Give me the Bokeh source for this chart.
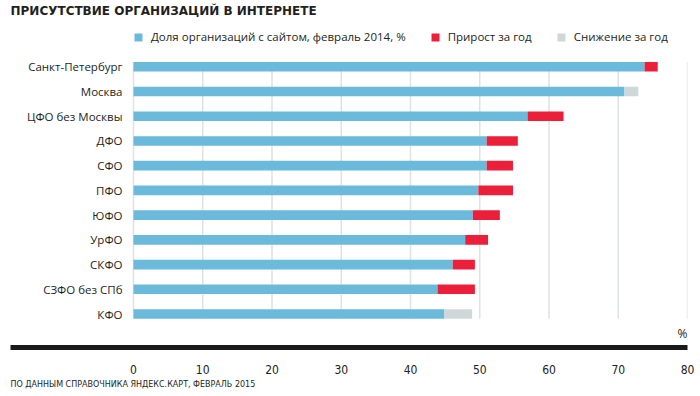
from bokeh.plotting import figure
from bokeh.models import Range1d, FixedTicker, Label, ColumnDataSource, Title
from bokeh.core.properties import value
from bokeh.embed import file_html
from bokeh.resources import INLINE

title_text = "ПРИСУТСТВИЕ ОРГАНИЗАЦИЙ В ИНТЕРНЕТЕ"
source_text = "ПО ДАННЫМ СПРАВОЧНИКА ЯНДЕКС.КАРТ, ФЕВРАЛЬ 2015"
series_names = ["Доля организаций с сайтом, февраль 2014, %", "Прирост за год", "Снижение за год"]

regions = ["Санкт-Петербург", "Москва", "ЦФО без Москвы", "ДФО", "СФО", "ПФО",
           "ЮФО", "УрФО", "СКФО", "СЗФО без СПб", "КФО"]
base = [73.8, 70.9, 56.9, 51.0, 51.0, 49.8, 49.0, 47.9, 46.1, 43.9, 44.9]
growth = [1.9, 0.0, 5.2, 4.5, 3.8, 5.0, 3.9, 3.3, 3.2, 5.4, 0.0]
decline = [0.0, 2.0, 0.0, 0.0, 0.0, 0.0, 0.0, 0.0, 0.0, 0.0, 4.0]
x_ticks = [0, 10, 20, 30, 40, 50, 60, 70, 80]

BLUE = "#6bbadc"
RED = "#ec1f3b"
GREY = "#cfd8d9"
GRID = "#dde2e3"
TEXT = "#231f20"
FONT = "Open Sans"

idx = list(range(len(regions)))
src = ColumnDataSource(dict(
    y=idx, region=regions, base=base,
    grow_end=[b + g for b, g in zip(base, growth)],
    dec_end=[b + d for b, d in zip(base, decline)],
))

p = figure(width=700, height=396, output_backend="svg", toolbar_location=None,
           x_range=Range1d(-17.76, 80), y_range=Range1d(11.355, -2.682),
           y_axis_location=None,
           min_border_left=10, min_border_right=13, min_border_top=0, min_border_bottom=49)
p.outline_line_color = None
p.grid.visible = False
p.background_fill_color = "white"
p.border_fill_color = "white"

# grid lines
p.segment(x0=x_ticks, x1=x_ticks, y0=[-0.19] * len(x_ticks), y1=[len(regions) - 1 + 0.19] * len(x_ticks),
          line_color=GRID, line_width=1.5)

H = 0.39
p.hbar(y="y", left=0, right="base", height=H, source=src, fill_color=BLUE, line_color=None,
       legend_label=series_names[0])
p.hbar(y="y", left="base", right="grow_end", height=H, source=src, fill_color=RED, line_color=None,
       legend_label=series_names[1])
p.hbar(y="y", left="base", right="dec_end", height=H, source=src, fill_color=GREY, line_color=None,
       legend_label=series_names[2])

# category labels
p.text(x=0, y="y", text="region", source=src, x_offset=-11, text_align="right",
       text_baseline="middle", text_font=value(FONT), text_font_size="11.5px", text_color=TEXT)

# x axis
ax = p.xaxis[0]
ax.ticker = FixedTicker(ticks=x_ticks)
ax.major_tick_line_color = None
ax.minor_tick_line_color = None
ax.major_tick_out = 0
ax.major_tick_in = 0
ax.axis_line_width = 5
ax.axis_line_color = "#1a1a1a"
ax.major_label_standoff = 17
ax.major_label_text_font = "DejaVu Sans Condensed"
ax.major_label_text_font_size = "12px"
ax.major_label_text_color = "#222222"

# legend
lg = p.legend[0]
lg.orientation = "horizontal"
lg.location = (123, 303)
lg.padding = 0
lg.margin = 0
lg.spacing = 24
lg.border_line_color = None
lg.background_fill_alpha = 0
lg.glyph_width = 10
lg.glyph_height = 10
lg.label_height = 12
lg.label_standoff = 8
lg.label_text_font = FONT
lg.label_text_font_size = "11.5px"
lg.label_text_color = TEXT

# title
p.add_layout(Label(x=0, y=344, x_units="screen", y_units="screen", text=title_text,
                   text_font="DejaVu Sans", text_font_style="bold", text_font_size="12px",
                   text_color=TEXT, text_baseline="top", text_align="left"))
# percent sign
p.add_layout(Label(x=80, y=14, x_units="data", y_units="screen", text="%",
                   text_font=FONT, text_font_size="12px", text_color=TEXT,
                   text_baseline="middle", text_align="right"))
# source
p.add_layout(Title(text=source_text, align="left", standoff=2, offset=0,
                   text_font="DejaVu Sans", text_font_style="normal", text_font_size="8px",
                   text_color=TEXT), "below")

open("out.html", "w").write(file_html(p, INLINE))
